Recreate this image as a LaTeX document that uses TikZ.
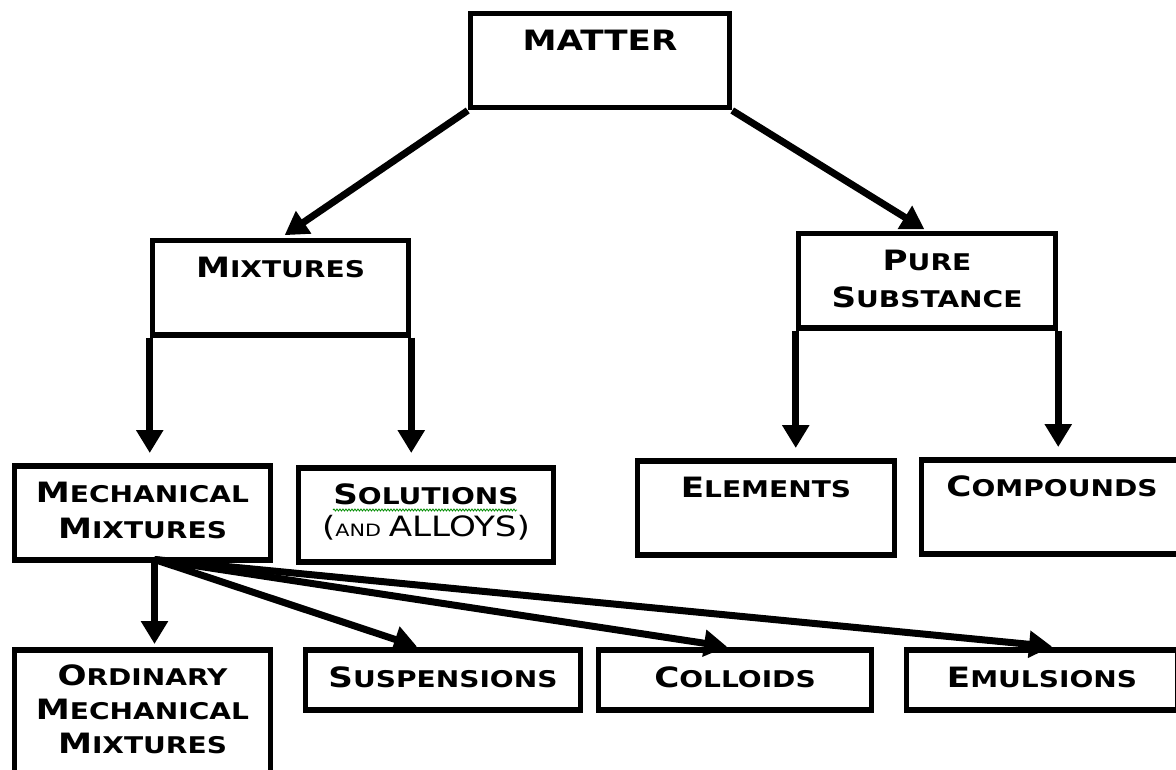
\documentclass[tikz,border=0pt]{standalone}
\usepackage{fontspec}
\usepackage{tikz}
\usetikzlibrary{arrows.meta,decorations.pathmorphing}
\newfontfamily\cpfont[FakeStretch=1.22]{DejaVu Sans}
\newcommand\ini[1]{{\fontsize{28}{36}\selectfont #1}}
\newcommand\sml[1]{{\fontsize{17}{20}\selectfont #1}}

\tikzset{
  box/.style={draw, line width=5.5pt, inner sep=0pt, anchor=north,
    minimum width=#1, text width=240pt, align=center,
    font=\cpfont\bfseries\fontsize{23}{36}\selectfont,
    text height=36.5pt, text depth=57.5pt},
  low/.style={text height=38pt, text depth=22pt},
  arr/.style={line width=7pt, -{Triangle[length=23pt,width=26pt]}}
}

\begin{document}
\begin{tikzpicture}[x=1pt,y=-1pt]
            \useasboundingbox (0,0) rectangle (1176,770);
            \clip (0,0) rectangle (1176,770);

            \node[box=259pt] (matter) at (600,11) {\ini{MATTER}};
            \node[box=256pt] (mix) at (280.5,238) {\ini{M}IXTURES};
            \node[box=257pt] (pure) at (927,231) {\ini{P}URE\\[1pt]\ini{S}UBSTANCE};

            \node[box=256pt] (mech) at (142.5,463) {\ini{M}ECHANICAL\\\ini{M}IXTURES};
            \node[box=255pt] (sol) at (426,465) {\ini{S}OLUTIONS\\[-4pt]{\mdseries\ini{(}\sml{AND} \ini{ALLOYS)}}};
            \node[box=257pt] (elem) at (766,458) {\ini{E}LEMENTS};
            \node[box=261pt] (comp) at (1052,457) {\ini{C}OMPOUNDS};

            \node[box=256pt, text height=35.5pt, text depth=114.5pt] (ord) at (142.5,647)
              {\ini{O}RDINARY\\[-2pt]\ini{M}ECHANICAL\\[-2pt]\ini{M}IXTURES};
            \node[box=275pt, low] (susp) at (443,647) {\ini{S}USPENSIONS};
            \node[box=273pt, low] (coll) at (735,647) {\ini{C}OLLOIDS};
            \node[box=271pt, low] (emul) at (1042,647) {\ini{E}MULSIONS};

            % spell-check squiggle under SOLUTIONS
            \draw[green!55!black, line width=0.8pt, decorate,
                  decoration={snake, amplitude=1pt, segment length=3pt}]
              ([xshift=-93pt,yshift=-45pt]sol.north) -- ([xshift=91pt,yshift=-45pt]sol.north);

            \coordinate (fan) at ([xshift=12pt,yshift=3pt]mech.south);

            \draw[arr, shorten >=5pt] (matter.south west) -- (mix.north);
            \draw[arr, shorten >=3pt] (matter.south east) -- (pure.north);
            \draw[arr, shorten >=10pt] (mix.south west) -- (mix.south west |- mech.north);
            \draw[arr, shorten >=12pt] (mix.south east) -- (mix.south east |- sol.north);
            \draw[arr, shorten >=10pt] (pure.south west) -- (pure.south west |- elem.north);
            \draw[arr, shorten >=10pt] (pure.south east) -- (pure.south east |- comp.north);

            \draw[arr, shorten >=3pt] (fan) -- (fan |- ord.north);
            \draw[arr, shorten >=1pt] (fan) -- ([xshift=-25pt]susp.north);
            \draw[arr, shorten >=2pt] (fan) -- ([xshift=-6pt]coll.north);
            \draw[arr, shorten >=5pt] (fan) -- ([xshift=15pt]emul.north);
        \end{tikzpicture}
\end{document}
